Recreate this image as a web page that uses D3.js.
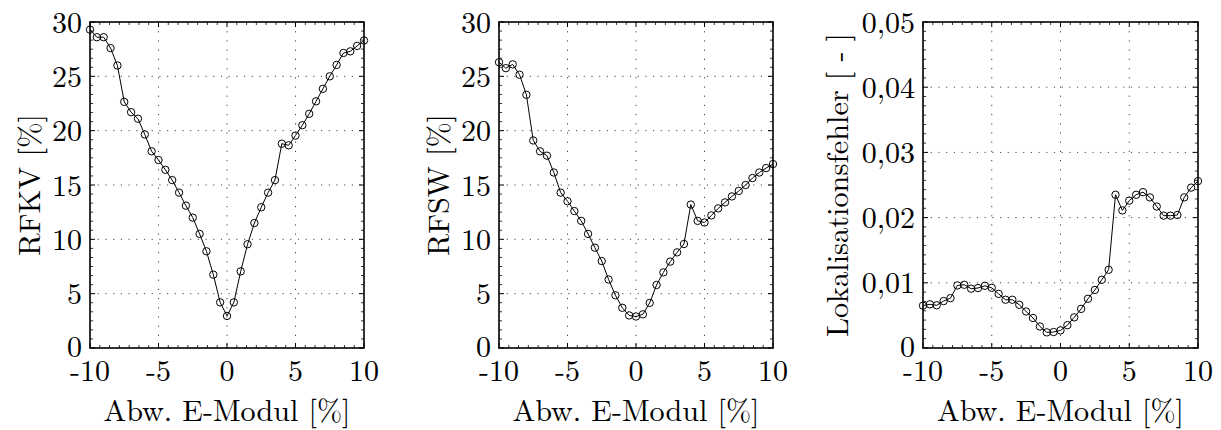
<!DOCTYPE html>
<html><head><meta charset="utf-8">
<script src="https://cdn.jsdelivr.net/npm/d3@7"></script>
<style>
html,body{margin:0;padding:0;background:#fff;}
svg text{font-family:"Latin Modern Roman","CMU Serif","Liberation Serif",serif;fill:#000;}
</style></head>
<body><svg id="c" width="1221" height="430"></svg>
<script>
// x values: deviation of E-modulus [%]
const xValues = [-10,-9.5,-9,-8.5,-8,-7.5,-7,-6.5,-6,-5.5,-5,-4.5,-4,-3.5,-3,-2.5,-2,-1.5,-1,-0.5,0,0.5,1,1.5,2,2.5,3,3.5,4,4.5,5,5.5,6,6.5,7,7.5,8,8.5,9,9.5,10];
const rfkv = [29.3,28.6,28.6,27.6,26.0,22.65,21.7,21.1,19.65,18.1,17.3,16.4,15.45,14.3,13.1,12.0,10.5,8.9,6.75,4.2,2.95,4.2,7.05,9.55,11.5,12.95,14.3,15.45,18.8,18.65,19.55,20.5,21.55,22.7,23.85,25.0,26.05,27.15,27.3,27.8,28.3];
const rfsw = [26.3,25.75,26.1,25.15,23.3,19.1,18.1,17.7,16.15,14.3,13.5,12.6,11.7,10.5,9.23,8.0,6.3,4.85,3.7,3.0,2.9,3.1,4.15,5.8,6.96,7.95,8.8,9.57,13.2,11.7,11.55,12.2,12.85,13.4,13.95,14.45,15.0,15.64,16.15,16.56,16.93];
const lokal = [0.0065,0.0067,0.00655,0.0072,0.00765,0.0096,0.0097,0.0091,0.0092,0.00954,0.00923,0.0083,0.0074,0.0074,0.00663,0.0056,0.0046,0.0033,0.0024,0.00245,0.0027,0.0035,0.0047,0.006,0.00755,0.0089,0.01046,0.012,0.0235,0.0211,0.0226,0.0235,0.0239,0.0231,0.0217,0.0203,0.0203,0.0204,0.0231,0.0246,0.0256];
const xTicks = [-10,-5,0,5,10];
const yTicks12 = [0,5,10,15,20,25,30];
const yTicks3 = [0,0.01,0.02,0.03,0.04,0.05];
const xLabel = "Abw. E-Modul [%]";
const yLabels = ["RFKV [%]","RFSW [%]","Lokalisationsfehler [ - ]"];

const svg = d3.select("#c");
const plotTop = 22, plotBottom = 348;
const panels = [
  {left:90, right:364, data:rfkv, yMax:30, yTicks:yTicks12, fmt:d=>String(d), label:yLabels[0], labelX:40, labelLen:142, yMinorN:6},
  {left:499, right:773, data:rfsw, yMax:30, yTicks:yTicks12, fmt:d=>String(d), label:yLabels[1], labelX:449, labelLen:142, yMinorN:6},
  {left:923, right:1198, data:lokal, yMax:0.05, yTicks:yTicks3, fmt:d=>d===0?"0":d3.format(".2f")(d).replace(".",","), label:yLabels[2], labelX:848, labelLen:304, yMinorN:7}
];

panels.forEach(p=>{
  const x = d3.scaleLinear().domain([-10,10]).range([p.left,p.right]);
  const y = d3.scaleLinear().domain([0,p.yMax]).range([plotBottom,plotTop]);
  const g = svg.append("g");
  // grid
  xTicks.slice(1,-1).forEach(t=>{
    g.append("line").attr("x1",x(t)).attr("x2",x(t)).attr("y1",plotTop).attr("y2",plotBottom)
     .attr("stroke","#444").attr("stroke-width",1).attr("stroke-dasharray","1.2,8");
  });
  p.yTicks.slice(1,-1).forEach(t=>{
    g.append("line").attr("x1",p.left).attr("x2",p.right).attr("y1",y(t)).attr("y2",y(t))
     .attr("stroke","#444").attr("stroke-width",1).attr("stroke-dasharray","1.2,6.5");
  });
  // minor ticks
  const yStep = p.yTicks[1]-p.yTicks[0];
  for(let i=0;i<p.yTicks.length-1;i++){
    for(let k=1;k<p.yMinorN;k++){
      const v = p.yTicks[i]+yStep*k/p.yMinorN;
      [[p.left,3],[p.right,-3]].forEach(([xx,d])=>g.append("line").attr("x1",xx).attr("x2",xx+d).attr("y1",y(v)).attr("y2",y(v)).attr("stroke","#000").attr("stroke-width",0.8));
    }
  }
  const xMinorN = 7;
  for(let i=0;i<xTicks.length-1;i++){
    for(let k=1;k<xMinorN;k++){
      const v = xTicks[i]+5*k/xMinorN;
      [[plotTop,3],[plotBottom,-3]].forEach(([yy,d])=>g.append("line").attr("y1",yy).attr("y2",yy+d).attr("x1",x(v)).attr("x2",x(v)).attr("stroke","#000").attr("stroke-width",0.8));
    }
  }
  // major ticks
  p.yTicks.forEach(t=>{
    [[p.left,5],[p.right,-5]].forEach(([xx,d])=>g.append("line").attr("x1",xx).attr("x2",xx+d).attr("y1",y(t)).attr("y2",y(t)).attr("stroke","#000").attr("stroke-width",1));
  });
  xTicks.forEach(t=>{
    [[plotTop,5],[plotBottom,-5]].forEach(([yy,d])=>g.append("line").attr("y1",yy).attr("y2",yy+d).attr("x1",x(t)).attr("x2",x(t)).attr("stroke","#000").attr("stroke-width",1));
  });
  // frame
  g.append("rect").attr("x",p.left).attr("y",plotTop).attr("width",p.right-p.left).attr("height",plotBottom-plotTop)
   .attr("fill","none").attr("stroke","#000").attr("stroke-width",1.6);
  // line
  const pts = xValues.map((v,i)=>[v,p.data[i]]);
  g.append("path").datum(pts).attr("fill","none").attr("stroke","#000").attr("stroke-width",1)
   .attr("d",d3.line().x(d=>x(d[0])).y(d=>y(d[1])));
  g.selectAll("circle").data(pts).join("circle").attr("cx",d=>x(d[0])).attr("cy",d=>y(d[1])).attr("r",3.7)
   .attr("fill","none").attr("stroke","#000").attr("stroke-width",1);
  // tick labels
  p.yTicks.forEach(t=>{
    g.append("text").attr("x",p.left-8).attr("y",t===0?y(t)-2:y(t)).attr("dy","0.35em").attr("text-anchor","end")
     .attr("font-size",30).text(p.fmt(t));
  });
  xTicks.forEach(t=>{
    g.append("text").attr("x",x(t)).attr("y",381).attr("text-anchor","middle")
     .attr("font-size",30).text(String(t));
  });
  // axis labels
  g.append("text").attr("x",(p.left+p.right)/2).attr("y",421).attr("text-anchor","middle")
   .attr("font-size",30).attr("textLength",247).attr("lengthAdjust","spacingAndGlyphs").text(xLabel);
  g.append("text").attr("transform",`translate(${p.labelX},${(plotTop+plotBottom)/2}) rotate(-90)`)
   .attr("text-anchor","middle").attr("font-size",30)
   .attr("textLength",p.labelLen).attr("lengthAdjust","spacingAndGlyphs").text(p.label);
});
</script></body></html>
